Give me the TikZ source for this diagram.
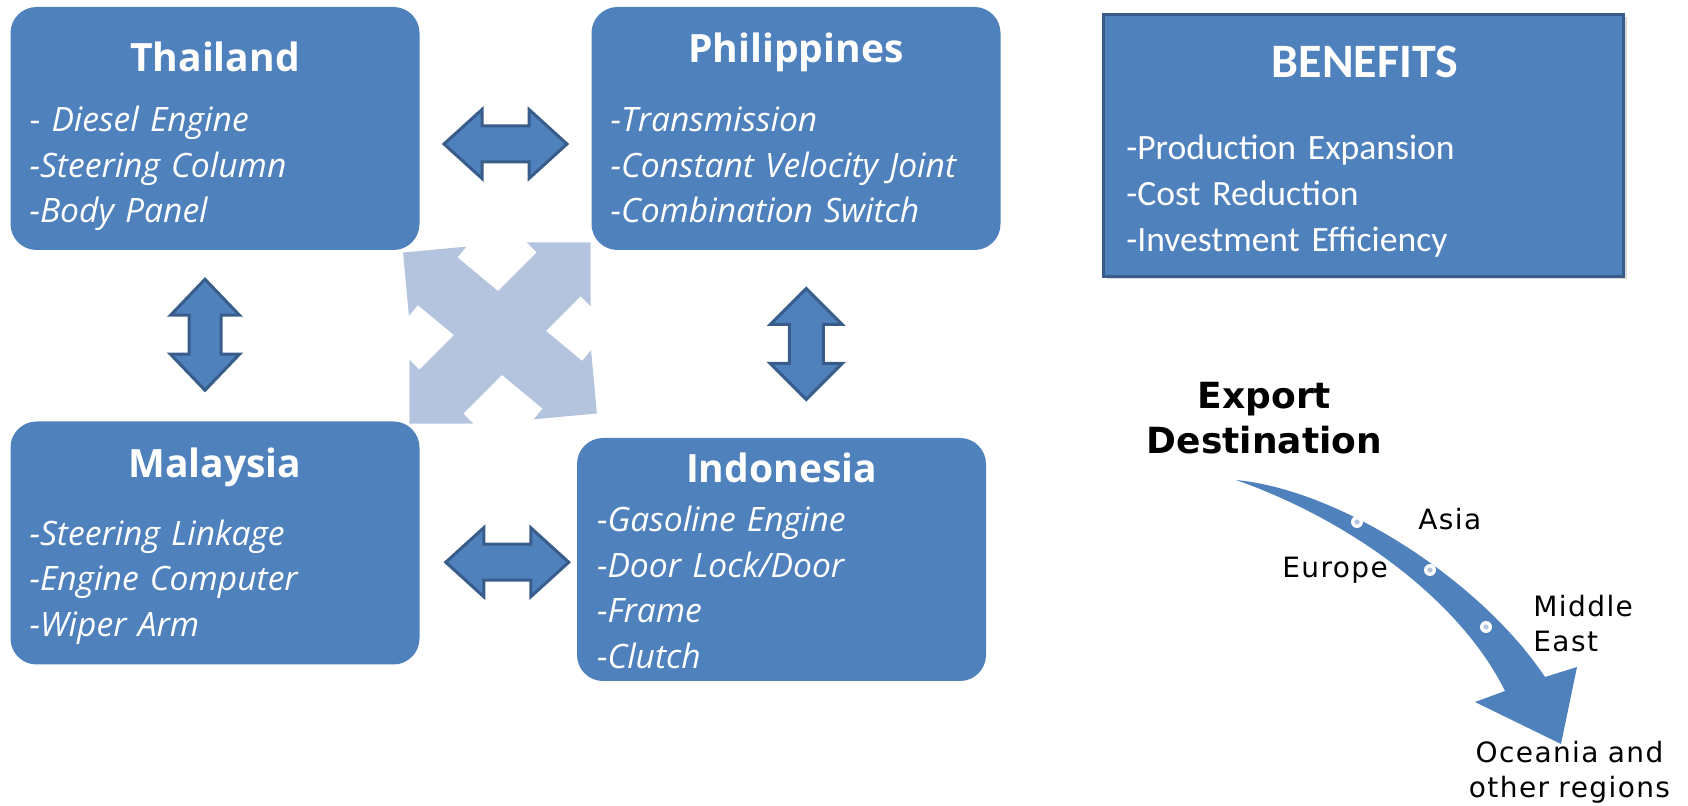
\documentclass[tikz,border=0pt]{standalone}
\usepackage{fontspec}
\setmainfont{Open Sans}
\newfontfamily\benefitfont{Carlito}
\newfontfamily\exportfont[LetterSpace=5]{DejaVu Sans}
\newfontfamily\exporthead{DejaVu Sans}
\usetikzlibrary{calc,shadows}
\definecolor{boxblue}{RGB}{79,129,189}
\definecolor{edgeblue}{RGB}{56,93,138}
\definecolor{paleblue}{RGB}{180,196,222}

% double arrow: [style]{centre}{angle}{half length}{head length}{head half width}{shaft half width}
\newcommand{\dblarrow}[7][]{%
  \fill[shift={#2},rotate=#3,#1]
    (-#4,0) -- ({-#4+#5},#6) -- ({-#4+#5},#7) -- ({#4-#5},#7) -- ({#4-#5},#6)
    -- (#4,0) -- ({#4-#5},-#6) -- ({#4-#5},-#7) -- ({-#4+#5},-#7) -- ({-#4+#5},-#6) -- cycle;}

\begin{document}
\begin{tikzpicture}[x=.5pt,y=-.5pt,
        country/.style={fill=boxblue, rounded corners=13pt, minimum width=204.5pt, minimum height=121.5pt, inner sep=0pt},
        ctitle/.style={text=white, font=\bfseries\fontsize{19.5}{23}\selectfont, anchor=base, inner sep=0pt},
        parts/.style={text=white, font=\itshape\fontsize{16.8}{22.75}\selectfont, anchor=base west, text width=200pt, align=left, inner sep=0pt},
        benefit/.style={fill=boxblue, draw=edgeblue, line width=1.5pt, minimum width=260pt, minimum height=131pt, inner sep=0pt,
                        drop shadow={shadow xshift=1.5pt, shadow yshift=-1.5pt, fill=black!25, opacity=.6}},
        link/.style={fill=boxblue, draw=edgeblue, line width=1.5pt, line join=miter},
        crossarrow/.style={fill=paleblue},
        region/.style={font=\exportfont\fontsize{14}{17.25}\selectfont, inner sep=0pt}]
        \useasboundingbox (0,0) rectangle (1688,806);

        % pale cross behind the boxes
        \dblarrow[crossarrow]{(500,333)}{-39.7}{126}{45}{45}{31}
        \dblarrow[crossarrow]{(500,333)}{45}{128}{45}{45}{31}

        % countries
        \node[country] (thai) at (215,128.5) {};
        \node[ctitle] (thaiT) at ($(thai.north)+(0,65)$) {Thailand};
        \node[parts] (thaiP) at ($(thai.north west)+(19,125)$) {{\upshape -}\ Diesel Engine\\-Steering Column\\-Body Panel};

        \node[country] (phil) at (796,128.5) {};
        \node[ctitle] (philT) at ($(phil.north)+(0,56)$) {Philippines};
        \node[parts] (philP) at ($(phil.north west)+(19,125)$) {-Transmission\\-Constant Velocity Joint\\-Combination Switch};

        \node[country] (malay) at (215,543) {};
        \node[ctitle] (malayT) at ($(malay.north)+(0,56)$) {Malaysia};
        \node[parts] (malayP) at ($(malay.north west)+(19,124)$) {-Steering Linkage\\-Engine Computer\\-Wiper Arm};

        \node[country] (indo) at (781.5,559.5) {};
        \node[ctitle] (indoT) at ($(indo.north)+(0,45)$) {Indonesia};
        \node[parts] (indoP) at ($(indo.north west)+(20,94)$) {-Gasoline Engine\\-Door Lock/Door\\-Frame\\-Clutch};

        % links between the countries
        \dblarrow[link]{($(thai.east)!.5!(phil.west)+(0,15.5)$)}{0}{61.5}{38}{34.5}{18}
        \dblarrow[link]{($(malay.east)!.5!(indo.west)+(9,11)$)}{0}{61.5}{38}{34.5}{18}
        \dblarrow[link]{($(thai.south)!.5!(malay.north)+(-10,-1)$)}{90}{55.5}{36}{34.5}{16}
        \dblarrow[link]{($(phil.south)!.5!(indo.north)+(17.5,0)$)}{90}{55.5}{36}{36}{17}

        % benefits
        \node[benefit] (ben) at (1363.5,145.5) {};
        \node[ctitle, font=\benefitfont\bfseries\fontsize{24}{28}\selectfont] (benT) at ($(ben.north)+(1.5,65)$) {BENEFITS};
        \node[parts, font=\benefitfont\fontsize{17.8}{23}\selectfont] (benP) at ($(ben.north west)+(24,147)$) {-Production Expansion\\-Cost Reduction\\-Investment Efficiency};

        % export destinations
        \node[region, font=\exporthead\bfseries\fontsize{18}{22.5}\selectfont, text width=140pt, align=center, anchor=base] (dest) at (1264.5,409) {Export\\Destination};
        \fill[boxblue] (1236,480) .. controls (1340,490) and (1480,580) .. (1545,677)
            -- (1577,667) -- (1561,744) -- (1475,702) -- (1505,691)
            .. controls (1460,600) and (1350,520) .. (1236,480) -- cycle;
        \foreach \d in {(1357,522),(1430,570),(1486,627)}{
          \fill[white] \d circle (3pt);
          \fill[paleblue] \d circle (1.3pt);
        }
        \node[region, anchor=base west] (asia) at (1418,530) {Asia};
        \node[region, anchor=base west] (europe) at (1282,578) {Europe};
        \node[region, anchor=base west, text width=60pt, align=left] (mideast) at (1533,617) {Middle\\East};
        \node[region, anchor=base, text width=120pt, align=center] (oceania) at (1569.5,763) {Oceania and\\other regions};
      \end{tikzpicture}
\end{document}
